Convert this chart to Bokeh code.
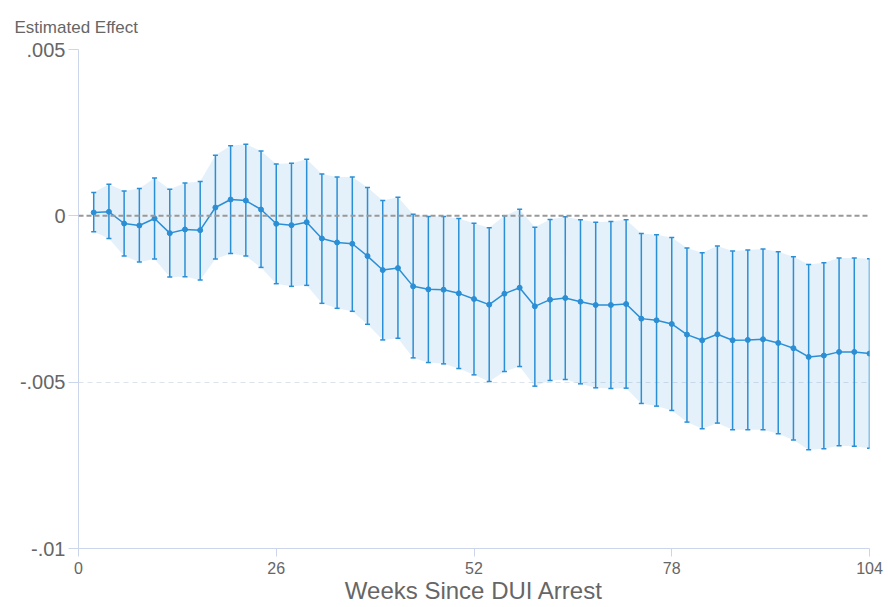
from bokeh.plotting import figure
from bokeh.models import (ColumnDataSource, Whisker, TeeHead, Span, FixedTicker,
                          CustomJSTickFormatter, Range1d)
from bokeh.embed import file_html
from bokeh.resources import INLINE

weeks = [2, 4, 6, 8, 10, 12, 14, 16, 18, 20, 22, 24, 26, 28, 30, 32, 34, 36, 38, 40,
         42, 44, 46, 48, 50, 52, 54, 56, 58, 60, 62, 64, 66, 68, 70, 72, 74, 76, 78, 80,
         82, 84, 86, 88, 90, 92, 94, 96, 98, 100, 102, 104]

estimate = [0.00010, 0.00012, -0.00023, -0.00029, -0.00008, -0.00052, -0.00041, -0.00043,
            0.00025, 0.00049, 0.00046, 0.00019, -0.00024, -0.00028, -0.00019, -0.00068,
            -0.00080, -0.00084, -0.00121, -0.00163, -0.00157, -0.00212, -0.00221, -0.00222,
            -0.00233, -0.00250, -0.00267, -0.00234, -0.00216, -0.00272, -0.00252, -0.00247,
            -0.00258, -0.00268, -0.00268, -0.00265, -0.00309, -0.00314, -0.00325, -0.00357,
            -0.00374, -0.00356, -0.00374, -0.00373, -0.00371, -0.00382, -0.00398, -0.00424,
            -0.00420, -0.00409, -0.00409, -0.00414]

upper = [0.00070, 0.00095, 0.00075, 0.00082, 0.00114, 0.00080, 0.00099, 0.00103,
         0.00182, 0.00211, 0.00215, 0.00195, 0.00156, 0.00158, 0.00170, 0.00126,
         0.00117, 0.00117, 0.00085, 0.00046, 0.00056, 0.00005, -0.00002, -0.00002,
         -0.00008, -0.00022, -0.00036, 0.00000, 0.00020, -0.00034, -0.00011, -0.00003,
         -0.00012, -0.00019, -0.00017, -0.00012, -0.00053, -0.00057, -0.00065, -0.00097,
         -0.00111, -0.00091, -0.00106, -0.00103, -0.00100, -0.00108, -0.00123, -0.00146,
         -0.00141, -0.00127, -0.00127, -0.00129]

lower = [-0.00048, -0.00068, -0.00121, -0.00139, -0.00130, -0.00184, -0.00183, -0.00193,
         -0.00130, -0.00113, -0.00121, -0.00155, -0.00204, -0.00212, -0.00209, -0.00263,
         -0.00278, -0.00287, -0.00326, -0.00373, -0.00368, -0.00427, -0.00441, -0.00445,
         -0.00459, -0.00478, -0.00498, -0.00468, -0.00453, -0.00512, -0.00495, -0.00492,
         -0.00505, -0.00517, -0.00519, -0.00518, -0.00564, -0.00572, -0.00585, -0.00620,
         -0.00640, -0.00623, -0.00643, -0.00643, -0.00643, -0.00655, -0.00674, -0.00703,
         -0.00700, -0.00691, -0.00693, -0.00699]

x_ticks = [0, 26, 52, 78, 104]
y_ticks = [-0.01, -0.005, 0, 0.005]
y_title = "Estimated Effect"

BLUE = "#2b8fd6"
AXIS = "#ccd6eb"
NARROW = "Liberation Sans Narrow, Liberation Sans"

src = ColumnDataSource(dict(x=weeks, y=estimate, upper=upper, lower=lower))

p = figure(width=888, height=607, output_backend="svg", toolbar_location=None,
           x_range=Range1d(0, 104), y_range=Range1d(-0.01, 0.005),
           min_border_left=78, min_border_right=19, min_border_top=49, min_border_bottom=59)
p.outline_line_color = None
p.background_fill_color = "white"

p.title.text = y_title
p.title.text_font = "Liberation Sans"
p.title.text_font_size = "17px"
p.title.text_font_style = "normal"
p.title.text_color = "#666666"
p.title.align = "left"
p.title.vertical_align = "top"
p.title.offset = -64
p.title.standoff = 22

p.varea(x="x", y1="lower", y2="upper", source=src, fill_color=BLUE, fill_alpha=0.13)

zero = Span(location=0, dimension="width", line_color="#999999", line_dash="5 3", line_width=2)
p.add_layout(zero)

w = Whisker(source=src, base="x", upper="upper", lower="lower", line_color=BLUE,
            line_width=1.5,
            upper_head=TeeHead(size=5, line_color=BLUE, line_width=1.5),
            lower_head=TeeHead(size=5, line_color=BLUE, line_width=1.5))
p.add_layout(w)

p.line(x="x", y="y", source=src, line_color=BLUE, line_width=1.5)
p.scatter(x="x", y="y", source=src, size=5, fill_color=BLUE, line_color=BLUE)

# grid
p.xgrid.visible = False
p.ygrid.ticker = FixedTicker(ticks=[-0.005, 0.005])
p.ygrid.grid_line_color = "#dde3ea"
p.ygrid.grid_line_dash = "5 4"
p.ygrid.grid_line_width = 1

# x axis
xa = p.xaxis[0]
xa.ticker = FixedTicker(ticks=x_ticks)
xa.axis_line_color = AXIS
xa.major_tick_line_color = AXIS
xa.major_tick_out = 8
xa.major_tick_in = 0
xa.minor_tick_line_color = None
xa.major_label_text_font = NARROW
xa.major_label_text_font_size = "16px"
xa.major_label_text_color = "#666666"
xa.major_label_standoff = 5
xa.axis_label = "Weeks Since DUI Arrest"
xa.axis_label_text_font = NARROW
xa.axis_label_text_font_size = "24px"
xa.axis_label_text_font_style = "normal"
xa.axis_label_text_color = "#666666"
xa.axis_label_standoff = 0

# y axis
ya = p.yaxis[0]
ya.ticker = FixedTicker(ticks=y_ticks)
ya.formatter = CustomJSTickFormatter(
    code="if (tick == 0) { return '0'; } return tick.toString().replace('0.', '.');")
ya.axis_line_color = AXIS
ya.major_tick_line_color = AXIS
ya.major_tick_out = 10
ya.major_tick_in = 0
ya.minor_tick_line_color = None
ya.major_label_text_font = "Liberation Sans"
ya.major_label_text_font_size = "20px"
ya.major_label_text_color = "#666666"
ya.major_label_standoff = 3

open("out.html", "w").write(file_html(p, INLINE))
